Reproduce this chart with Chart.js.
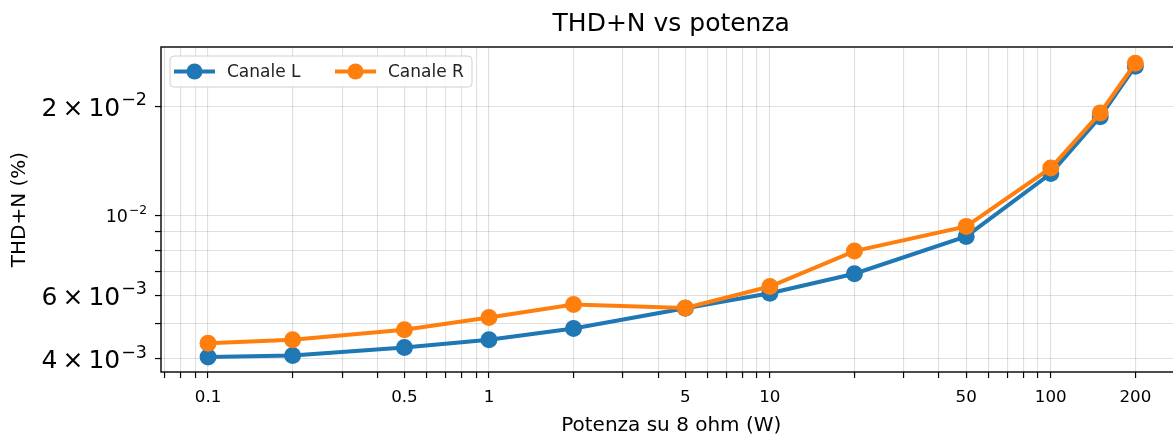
<!DOCTYPE html>
<html>
<head>
<meta charset="utf-8">
<title>THD+N vs potenza</title>
<script src="https://cdn.jsdelivr.net/npm/chart.js@4.4.1/dist/chart.umd.min.js"></script>
<style>
  html, body { margin: 0; padding: 0; background: #fff; overflow: hidden; }
  #wrap { position: relative; width: 1190px; height: 434px; }
</style>
</head>
<body>
<div id="wrap"><canvas id="thdChart"></canvas></div>
<script>
// Potenza (W) e THD+N (%)
const potenze = [0.1, 0.2, 0.5, 1, 2, 5, 10, 20, 50, 100, 150, 200];
const canaleL = [0.00405, 0.00409, 0.0043, 0.00452, 0.00486, 0.00553, 0.00608, 0.00689, 0.00874, 0.01306, 0.01877, 0.0259];
const canaleR = [0.00442, 0.00452, 0.00482, 0.00521, 0.00566, 0.00554, 0.00635, 0.00796, 0.00932, 0.01353, 0.01923, 0.0264];

const xTickLabels = [0.1, 0.5, 1, 5, 10, 50, 100, 200];
const yTickLabels = [0.004, 0.006, 0.01, 0.02];

const FONT = "'DejaVu Sans', sans-serif";
const BLU = '#1f77b4';
const ARANCIO = '#ff7f0e';

// posizioni della griglia log (1..9 per decade) dentro il range
function logGrid(min, max) {
  const out = [];
  for (let e = Math.floor(Math.log10(min)); e <= Math.ceil(Math.log10(max)); e++) {
    for (let m = 1; m <= 9; m++) {
      const v = parseFloat((m * Math.pow(10, e)).toPrecision(6));
      if (v >= min && v <= max) out.push(v);
    }
  }
  return out;
}

function isLabelled(list, v) {
  return list.some((t) => Math.abs(t - v) / t < 1e-6);
}

// spezza v in mantissa / esponente, es. 0.02 -> {m: 2, e: -2}
function sciParts(v) {
  const e = Math.floor(Math.log10(v) + 1e-9);
  const m = Math.round(v / Math.pow(10, e));
  return { m, e };
}

const X_MIN = 0.068, X_MAX = 292;
const Y_MIN = 0.00368, Y_MAX = 0.02928;

// etichette asse y in stile mathtext (m x 10^e) con apice vero
const yLabelPlugin = {
  id: 'yLabels',
  afterDraw(chart) {
    const { ctx } = chart;
    const ys = chart.scales.y;
    const right = 147;
    ctx.save();
    ctx.fillStyle = '#000';
    ctx.textBaseline = 'alphabetic';
    ctx.textAlign = 'left';
    yTickLabels.forEach((v) => {
      const { m, e } = sciParts(v);
      const size = m === 1 ? 17.5 : 25;
      const base = m === 1 ? '10' : m + '\u2009\u00D7\u200910';
      const sup = '\u2212' + Math.abs(e);
      ctx.font = size + 'px ' + FONT;
      const wBase = ctx.measureText(base).width;
      ctx.font = (size * 0.7) + 'px ' + FONT;
      const wSup = ctx.measureText(sup).width;
      const y = ys.getPixelForValue(v);
      const baseline = y + size * 0.365;
      const x0 = right - wBase - wSup - 1;
      ctx.font = size + 'px ' + FONT;
      ctx.fillText(base, x0, baseline);
      ctx.font = (size * 0.7) + 'px ' + FONT;
      ctx.fillText(sup, x0 + wBase + 1, baseline - size * 0.42);
    });
    ctx.restore();
  },
};

// bordo completo + legenda dentro il grafico (stile matplotlib)
const framePlugin = {
  id: 'frame',
  afterDraw(chart) {
    const { ctx, chartArea: a } = chart;
    ctx.save();
    ctx.strokeStyle = '#000';
    ctx.lineWidth = 1.4;
    ctx.strokeRect(a.left, a.top, a.right - a.left, a.bottom - a.top);

    // legenda
    const bx = 170, by = 56, bw = 302, bh = 31, r = 4;
    ctx.beginPath();
    ctx.moveTo(bx + r, by);
    ctx.arcTo(bx + bw, by, bx + bw, by + bh, r);
    ctx.arcTo(bx + bw, by + bh, bx, by + bh, r);
    ctx.arcTo(bx, by + bh, bx, by, r);
    ctx.arcTo(bx, by, bx + bw, by, r);
    ctx.closePath();
    ctx.fillStyle = 'rgba(255,255,255,0.8)';
    ctx.fill();
    ctx.strokeStyle = '#d0d0d0';
    ctx.lineWidth = 1;
    ctx.stroke();

    const cy = by + bh / 2;
    const entries = [
      { x: 174, ds: chart.data.datasets[0] },
      { x: 335, ds: chart.data.datasets[1] },
    ];
    entries.forEach((en) => {
      ctx.strokeStyle = en.ds.borderColor;
      ctx.lineWidth = 4;
      ctx.beginPath();
      ctx.moveTo(en.x, cy);
      ctx.lineTo(en.x + 41, cy);
      ctx.stroke();
      ctx.fillStyle = en.ds.borderColor;
      ctx.beginPath();
      ctx.arc(en.x + 20.5, cy, 8, 0, Math.PI * 2);
      ctx.fill();
      ctx.fillStyle = '#222';
      ctx.font = '17px ' + FONT;
      ctx.textAlign = 'left';
      ctx.textBaseline = 'middle';
      ctx.fillText(en.ds.label, en.x + 53, cy + 1);
    });
    ctx.restore();
  },
};

const ctxEl = document.getElementById('thdChart');
new Chart(ctxEl, {
  type: 'line',
  data: {
    datasets: [
      {
        label: 'Canale L',
        data: potenze.map((p, i) => ({ x: p, y: canaleL[i] })),
        borderColor: BLU,
        backgroundColor: BLU,
        borderWidth: 4,
        pointRadius: 8.5,
        pointBorderWidth: 0,
        pointBackgroundColor: BLU,
        order: 2,
      },
      {
        label: 'Canale R',
        data: potenze.map((p, i) => ({ x: p, y: canaleR[i] })),
        borderColor: ARANCIO,
        backgroundColor: ARANCIO,
        borderWidth: 4,
        pointRadius: 8.5,
        pointBorderWidth: 0,
        pointBackgroundColor: ARANCIO,
        order: 1,
      },
    ],
  },
  options: {
    responsive: true,
    maintainAspectRatio: false,
    animation: false,
    layout: { padding: { left: 0, right: 5, top: 0, bottom: 0 } },
    plugins: {
      legend: { display: false },
      tooltip: { enabled: false },
      title: {
        display: true,
        fullSize: false,
        text: 'THD+N vs potenza',
        color: '#000',
        font: { family: FONT, size: 25, weight: 'normal' },
        padding: { top: 9, bottom: 8 },
      },
    },
    scales: {
      x: {
        type: 'logarithmic',
        min: X_MIN,
        max: X_MAX,
        afterBuildTicks: (scale) => {
          scale.ticks = logGrid(X_MIN, X_MAX).map((v) => ({ value: v }));
        },
        afterFit: (scale) => { scale.height = 62; },
        ticks: {
          autoSkip: false,
          maxRotation: 0,
          padding: 10,
          color: '#000',
          font: { family: FONT, size: 16.7 },
          callback: (v) => (isLabelled(xTickLabels, v) ? String(v) : ''),
        },
        grid: {
          color: 'rgba(0,0,0,0.12)',
          lineWidth: 1.1,
          tickColor: '#000',
          tickLength: 6,
          tickWidth: 1.2,
        },
        border: { display: false },
        title: {
          display: true,
          text: 'Potenza su 8 ohm (W)',
          color: '#000',
          font: { family: FONT, size: 20, lineHeight: 0.85 },
          padding: { top: 0, bottom: 0 },
        },
      },
      y: {
        type: 'logarithmic',
        min: Y_MIN,
        max: Y_MAX,
        afterBuildTicks: (scale) => {
          scale.ticks = logGrid(Y_MIN, Y_MAX).map((v) => ({ value: v }));
        },
        afterFit: (scale) => { scale.width = 161; },
        ticks: {
          autoSkip: false,
          padding: 8,
          callback: () => '',
        },
        grid: {
          color: 'rgba(0,0,0,0.12)',
          lineWidth: 1.1,
          tickColor: '#000',
          tickLength: 6,
          tickWidth: 1.2,
        },
        border: { display: false },
        title: {
          display: true,
          text: 'THD+N (%)',
          color: '#000',
          font: { family: FONT, size: 20 },
          padding: { top: 8, bottom: 0 },
        },
      },
    },
  },
  plugins: [framePlugin, yLabelPlugin],
});
</script>
</body>
</html>
